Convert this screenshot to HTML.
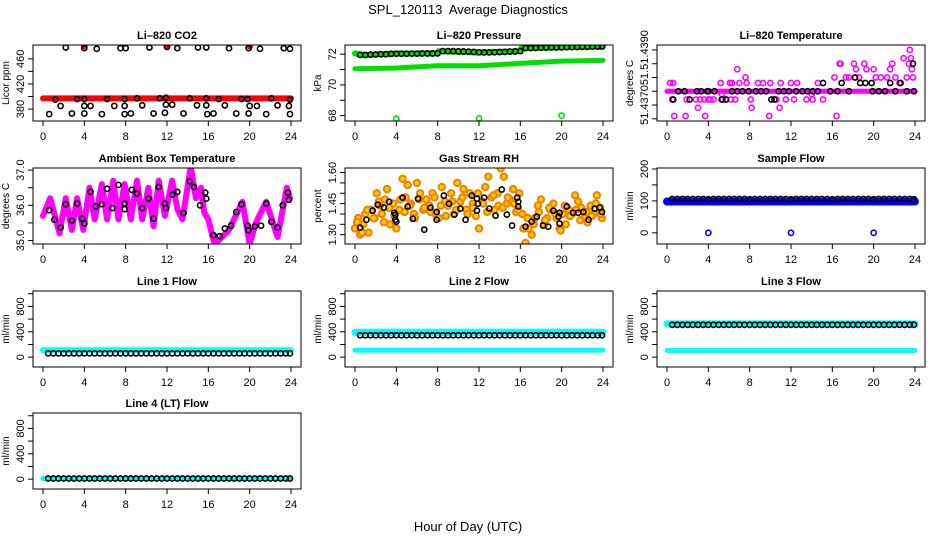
<!DOCTYPE html>
<html><head><meta charset="utf-8"><style>
html,body{margin:0;padding:0;background:#fff;}
svg{display:block;font-family:"Liberation Sans",Arial,sans-serif;}
</style></head><body>
<svg id="chart" width="936" height="540" viewBox="0 0 936 540">
<text x="468" y="14" text-anchor="middle" font-size="13" style="white-space:pre">SPL_120113  Average Diagnostics</text>
<text x="468" y="531" text-anchor="middle" font-size="13">Hour of Day (UTC)</text>
</svg>
<script>
// ---- shared data ----
const XTICKS = [0,4,8,12,16,20,24];
const HALF_HOURS = [0.5,1,1.5,2,2.5,3,3.5,4,4.5,5,5.5,6,6.5,7,7.5,8,8.5,9,9.5,10,10.5,11,11.5,12,12.5,13,13.5,14,14.5,15,15.5,16,16.5,17,17.5,18,18.5,19,19.5,20,20.5,21,21.5,22,22.5,23,23.5,23.9];
const DAY_T = [0,24];
const OUTLIER_T = [4,12,20];

// CO2
const co2BandV = [397,397];
const co2RedOutV = [480,481,480];
const co2BlackT = [2.2,4,5.2,7.5,8,10.3,12,13,15,15.8,18,19.9,21,23.3,23.9, 1.2,3.3,4,6.2,7.9,9.1,11.3,11.9,14.2,15.8,17,19.2,19.8,22.1,23.9, 1.7,4,4.6,6.9,7.9,9.6,11.9,12.5,14.9,15.8,17.6,20,20.7,22.7,23.8, 0.6,2.8,4,5.7,7.9,8.5,10.7,11.8,13.6,15.9,16.5,18.7,19.9,21.6,23.9];
const co2BlackV = [478,477,476,477,477,478,479,477,478,478,477,477,476,477,476, 395,396,396,396,396,397,397,398,397,397,396,396,396,397,395, 385,385,385,385,385,386,387,387,386,386,386,385,385,386,385, 372,373,373,372,372,373,373,374,373,372,373,373,373,372,372];

// Pressure
const presLowT = [0,4,8,12,16,20,24];
const presLowV = [71.05,71.1,71.25,71.25,71.4,71.55,71.6];
const presHighT = [0,1,4,7.9,8.1,12,15.9,16.1,20,24];
const presHighV = [72.05,71.95,72.05,72.05,72.2,72.1,72.2,72.4,72.45,72.5];
const presOutV = [67.8,67.82,68.0];
const presBlackV = [71.95,71.95,71.97,71.98,72,72,72.02,72.03,72.03,72.03,72.04,72.04,72.05,72.05,72.05,72.06,72.2,72.2,72.2,72.19,72.18,72.17,72.15,72.13,72.12,72.12,72.13,72.14,72.15,72.17,72.18,72.2,72.4,72.4,72.41,72.42,72.43,72.44,72.44,72.45,72.46,72.46,72.47,72.48,72.48,72.5,72.5,72.5];

// Li-820 temperature
const tempBandV = [51.4375,51.4375];
const tempPinkT = [0.3,0.6,0.5,0.7,1.9,1.8,2.8,3.0,3.2,3.7,3.6,4.0,4.2,4.5,5.2,5.3,5.4,5.7,6.1,6.2,6.3,6.6,6.8,7.0,7.6,7.7,8.1,8.2,8.8,9.3,9.9,10.0,10.6,10.9,11.0,11.5,12.0,12.3,12.6,13.5,14.0,14.1,14.6,15.1,16.2,16.4,16.7,16.8,17.3,17.6,18.1,18.3,18.6,19.1,19.3,20.0,20.2,20.7,21.3,21.6,21.8,22.1,22.5,22.9,23.2,23.4,23.5,23.6,23.7,23.8];
const tempPinkV = [51.4378,51.4378,51.4372,51.4366,51.4372,51.4366,51.4372,51.4369,51.4372,51.4366,51.4372,51.4372,51.4372,51.4372,51.4378,51.4374,51.4372,51.4372,51.4378,51.4372,51.4378,51.4372,51.4383,51.4378,51.4380,51.4378,51.4372,51.4369,51.4378,51.4378,51.4366,51.4378,51.4372,51.4369,51.4378,51.4372,51.4378,51.4372,51.4378,51.4372,51.4374,51.4372,51.4378,51.4372,51.4380,51.4366,51.4385,51.4385,51.4380,51.4380,51.4385,51.4383,51.4380,51.4385,51.4383,51.4383,51.4380,51.4380,51.4380,51.4383,51.4385,51.4380,51.4378,51.4387,51.4380,51.4385,51.4390,51.4387,51.4383,51.4380];
const tempBlackT = [0.6,1.1,1.7,2.2,2.9,3.3,3.9,4.0,4.6,5.3,5.7,6.3,6.8,7.3,7.9,8.6,9.1,9.6,10.1,10.4,10.8,11.3,11.8,12.5,13.1,13.6,14.1,14.6,15.1,15.8,16.5,16.9,17.6,18.2,18.7,19.2,19.8,19.9,20.5,21.1,21.6,22.1,22.6,23.2,23.8,23.9];
const tempBlackV = [51.4372,51.4375,51.4375,51.4372,51.4375,51.4375,51.4375,51.4375,51.4375,51.4372,51.4372,51.4375,51.4375,51.4375,51.4375,51.4375,51.4375,51.4375,51.4372,51.4372,51.4375,51.4375,51.4375,51.4375,51.4375,51.4375,51.4375,51.4375,51.4378,51.4375,51.4375,51.4378,51.4375,51.4380,51.4378,51.4378,51.4378,51.4375,51.4375,51.4375,51.4378,51.4375,51.4378,51.4375,51.4385,51.4375];

// Ambient box temperature
const ambBandT = [0,0.7,1.6,2.2,2.8,3.3,3.9,4.5,5.0,5.7,6.2,6.8,7.3,7.9,8.5,9.1,9.6,10.2,10.7,11.2,11.8,12.5,13.0,13.5,14.3,14.8,15.3,15.6,16.0,16.5,17.0,18.0,19.3,20.0,20.6,21.6,22.7,23.6,23.9];
const ambBandV = [35.7,36.2,35.2,36.2,35.3,36.2,35.3,36.5,35.6,36.6,35.6,36.7,35.6,36.6,35.6,36.7,35.6,36.5,35.4,36.7,35.7,36.7,35.9,35.6,37.1,36.2,36.5,35.8,35.6,35.0,35.0,35.3,36.1,34.9,35.5,36.1,35.1,36.5,36.2];
const ambBlackT = [0.6,1.1,1.7,2.2,2.8,3.3,3.8,4,4.6,5.1,5.7,6.2,6.7,7.3,7.9,7.9,8.6,9.1,9.6,10.2,10.7,11.2,11.8,11.9,12.5,13,13.6,14.2,14.6,15.2,15.7,15.8,16.5,17.1,17.6,18.2,18.7,19.2,19.8,19.9,20.5,21.1,21.6,22.1,22.7,23.2,23.7,23.8];
const ambBlackV = [35.86,35.59,35.37,36.03,35.56,36.05,35.62,35.48,36.38,35.97,36.03,36.47,35.92,36.58,36.05,35.89,36.44,36.33,35.92,36.19,35.62,36.52,36.05,35.92,36.30,36.38,35.78,36.68,36.52,36.0,36.36,36.19,35.15,35.12,35.34,35.42,35.81,36.03,35.42,35.29,35.40,35.42,36.05,35.53,35.37,36.0,36.36,36.16];

// Gas stream RH
const rhOrangeT = [0,0.3,0.5,0.8,1.0,1.3,1.6,1.9,2.1,2.4,2.6,2.9,3.1,3.4,3.7,4.0,4.3,4.6,4.9,5.1,5.4,5.7,6.0,6.3,6.6,6.9,7.2,7.5,7.8,8.1,8.4,8.7,9.0,9.3,9.6,9.9,10.2,10.5,10.8,11.1,11.4,11.7,12.0,12.3,12.6,12.9,13.2,13.5,13.8,14.1,14.4,14.7,15.0,15.3,15.6,15.9,16.2,16.5,16.8,17.1,17.4,17.7,18.0,18.3,18.6,18.9,19.2,19.5,19.8,20.1,20.4,20.7,21.0,21.3,21.6,21.9,22.2,22.5,22.8,23.1,23.4,23.7,23.9,
 0.2,0.7,1.2,1.8,2.3,2.8,3.3,3.8,4.4,4.8,5.3,5.8,6.2,6.7,7.3,7.7,8.3,8.8,9.4,9.8,10.4,10.9,11.4,11.9,12.4,12.8,13.4,13.9,14.3,14.8,15.4,15.8,16.3,16.7,17.3,17.8,18.4,18.8,19.4,19.9,20.3,20.8,21.4,21.8,22.4,22.9,23.3,23.8];
const rhOrangeV = [1.33,1.38,1.30,1.35,1.40,1.31,1.42,1.38,1.50,1.44,1.40,1.47,1.52,1.35,1.45,1.33,1.42,1.57,1.48,1.54,1.45,1.40,1.55,1.50,1.42,1.47,1.44,1.50,1.40,1.38,1.53,1.46,1.44,1.50,1.40,1.55,1.46,1.52,1.42,1.50,1.45,1.39,1.33,1.46,1.53,1.58,1.48,1.42,1.50,1.62,1.58,1.45,1.47,1.52,1.41,1.50,1.40,1.26,1.33,1.30,1.38,1.44,1.47,1.35,1.38,1.42,1.45,1.38,1.33,1.40,1.35,1.42,1.40,1.49,1.46,1.43,1.38,1.36,1.44,1.40,1.49,1.43,1.38,
 1.36,1.31,1.42,1.38,1.46,1.36,1.43,1.39,1.47,1.41,1.44,1.38,1.47,1.43,1.41,1.48,1.44,1.39,1.46,1.42,1.48,1.40,1.43,1.50,1.45,1.41,1.49,1.44,1.43,1.48,1.45,1.42,1.33,1.38,1.35,1.41,1.37,1.43,1.40,1.32,1.44,1.39,1.42,1.37,1.41,1.39,1.45,1.40];
const rhBlackT = [0.5,1.1,1.7,2.2,2.8,3.3,3.8,3.9,3.9,4.0,4.6,5.1,5.6,6.1,6.7,7.3,7.9,7.9,8.6,9.1,9.6,10.2,10.7,11.3,11.8,11.9,11.8,12.5,13.0,13.6,14.2,14.7,15.2,15.7,15.8,15.8,16.5,17.1,17.6,18.2,18.7,19.2,19.7,19.8,19.8,20.5,21.1,21.6,22.1,22.6,23.2,23.7,23.9];
const rhBlackV = [1.334,1.372,1.416,1.445,1.431,1.459,1.406,1.397,1.372,1.363,1.479,1.436,1.377,1.474,1.324,1.43,1.41,1.372,1.489,1.45,1.397,1.426,1.372,1.489,1.474,1.45,1.416,1.479,1.426,1.392,1.518,1.397,1.344,1.479,1.459,1.436,1.339,1.363,1.387,1.344,1.339,1.416,1.387,1.406,1.353,1.436,1.406,1.406,1.41,1.372,1.426,1.431,1.41];

// Sample flow
const sfBandV = [98,98];
const sfOutV = [0,0,0];
const sfBlackV = [106,106,106,106,106,106,106,105,106,106,106,106,106,106,106,105,106,106,106,106,106,106,106,105,106,106,106,106,106,106,106,105,106,106,106,106,106,106,106,105,106,106,106,106,106,106,106,105];

// Line flows
const l1CyanV = [110,110];
const l1BlackV = [60,60,60,60,60,60,60,60,60,60,60,60,60,60,60,60,60,60,60,60,60,60,60,60,60,60,60,60,60,60,60,60,60,60,60,60,60,60,60,60,60,60,60,60,60,60,60,60];
const l2CyanHighV = [390,390];
const l2CyanLowV = [109,109];
const l2BlackV = [345,345,345,345,345,345,345,345,345,345,345,345,345,345,345,345,345,345,345,345,345,345,345,345,345,345,345,345,345,345,345,345,345,345,345,345,345,345,345,345,345,345,345,345,345,345,345,345];
const l3CyanHighV = [525,525];
const l3CyanLowV = [105,105];
const l3BlackV = [510,510,510,510,510,510,510,510,510,510,510,510,510,510,510,510,510,510,510,510,510,510,510,510,510,510,510,510,510,510,510,510,510,510,510,510,510,510,510,510,510,510,510,510,510,510,510,510];
const l4CyanV = [10,10];
const l4BlackV = [10,10,10,10,10,10,10,10,10,10,10,10,10,10,10,10,10,10,10,10,10,10,10,10,10,10,10,10,10,10,10,10,10,10,10,10,10,10,10,10,10,10,10,10,10,10,10,10];

// ---- drawing ----
const svg = document.getElementById('chart');
const NS = 'http://www.w3.org/2000/svg';
const TOPS = [45,168,291,413];
function mk(tag, attrs, parent){ const e=document.createElementNS(NS,tag); for(const k in attrs) e.setAttribute(k,attrs[k]); (parent||svg).appendChild(e); return e; }

function panel(col,row,cfg){
  const L=33+312*col, R=301+312*col, T=TOPS[row], B=T+76;
  const g = mk('g',{});
  
  
  const x = t => L+10+t/24*(R-L-20);
  const y = v => B-(v-cfg.ymin)/(cfg.ymax-cfg.ymin)*(B-T);
  const clip = mk('clipPath',{id:'clip'+col+row},g);
  mk('rect',{x:L,y:T,width:R-L,height:B-T},clip);
  const plot = mk('g',{'clip-path':'url(#clip'+col+row+')'},g);
  const tt = mk('text',{x:(L+R)/2,y:T-6,'text-anchor':'middle','font-size':11,'font-weight':'bold'},g);
  tt.textContent = cfg.title;
  
  
  const box = mk('rect',{x:L,y:T,width:R-L,height:B-T,fill:'none',stroke:'#000','stroke-width':1},g);
  
  
  const xa = mk('g',{},g);
  
  
  mk('line',{x1:x(0),x2:x(24),y1:B,y2:B,stroke:'#000'},xa);
  XTICKS.forEach(t=>{
    mk('line',{x1:x(t),x2:x(t),y1:B,y2:B+5,stroke:'#000'},xa);
    const tx = mk('text',{x:x(t),y:B+19,'text-anchor':'middle','font-size':11},xa);
    tx.textContent = t;
  });
  const ya = mk('g',{},g);
  
  
  const yt = cfg.yticks;
  mk('line',{x1:L,x2:L,y1:y(yt[0]),y2:y(yt[yt.length-1]),stroke:'#000'},ya);
  yt.forEach((v,i)=>{
    mk('line',{x1:L-5,x2:L,y1:y(v),y2:y(v),stroke:'#000'},ya);
    const lab = cfg.ylabels[i];
    if(lab){ const tx = mk('text',{x:L-9,y:y(v),'text-anchor':'middle','font-size':11,transform:`rotate(-90 ${L-9} ${y(v)})`},ya); tx.textContent = lab; }
  });
  const ytl = mk('text',{x:L-24,y:(T+B)/2,'text-anchor':'middle','font-size':10,transform:`rotate(-90 ${L-24} ${(T+B)/2})`},g);
  ytl.textContent = cfg.ylab;
  
  
  cfg.series.forEach(s=>{
    if(s.type==='band'){
      const pl = mk('polyline',{points:s.t.map((t,i)=>x(t)+','+y(s.v[i])).join(' '),fill:'none',stroke:s.color,'stroke-width':s.w,'stroke-linejoin':'round','stroke-linecap':'round'},plot);
      
      
    } else {
      const sg = mk('g',{},plot);
      
      
      s.t.forEach((t,i)=>{
        const c = mk('circle',{cx:x(t),cy:y(s.v[i]),r:s.r||2.6,fill:s.fill||'none',stroke:s.color,'stroke-width':s.sw||1.6},sg);
        
        
      });
    }
  });
}

const lineTicks=[0,200,400,600,800,1000], lineLabs=['0','','400','','800',''];

panel(0,0,{name:'co2',title:'Li\u2013820 CO2',ylab:'Licor ppm',ymin:361,ymax:482,yticks:[380,400,420,440,460],ylabels:['380','','420','','460'],series:[
  {type:'band',name:'co2-red-band',t:DAY_T,v:co2BandV,color:'#f00',w:6},
  {type:'pts',name:'co2-red-outliers',t:OUTLIER_T,v:co2RedOutV,color:'#f00',fill:'#f00'},
  {type:'pts',name:'co2-hourly-points',t:co2BlackT,v:co2BlackV,color:'#000'}]});

panel(1,0,{name:'pressure',title:'Li\u2013820 Pressure',ylab:'kPa',ymin:67.65,ymax:72.6,yticks:[68,69,70,71,72],ylabels:['68','','70','','72'],series:[
  {type:'band',name:'pressure-lower-band',t:presLowT,v:presLowV,color:'#00e000',w:5},
  {type:'band',name:'pressure-upper-band',t:presHighT,v:presHighV,color:'#00e000',w:6},
  {type:'pts',name:'pressure-outliers',t:OUTLIER_T,v:presOutV,color:'#00e000'},
  {type:'pts',name:'pressure-hourly-points',t:HALF_HOURS,v:presBlackV,color:'#000'}]});

panel(2,0,{name:'li820-temp',title:'Li\u2013820 Temperature',ylab:'degrees C',ymin:51.43642,ymax:51.43918,yticks:[51.4365,51.4370,51.4375,51.4380,51.4385,51.4390],ylabels:['','51.4370','','51.','','51.4390'],series:[
  {type:'band',name:'li820-temp-band',t:DAY_T,v:tempBandV,color:'#f0f',w:5},
  {type:'pts',name:'li820-temp-pink-points',t:tempPinkT,v:tempPinkV,color:'#f0f'},
  {type:'pts',name:'li820-temp-hourly-points',t:tempBlackT,v:tempBlackV,color:'#000'}]});

panel(0,1,{name:'ambient-temp',title:'Ambient Box Temperature',ylab:'degrees C',ymin:34.9,ymax:37.06,yticks:[35,35.5,36,36.5,37],ylabels:['35.0','','36.0','','37.0'],series:[
  {type:'band',name:'ambient-temp-band',t:ambBandT,v:ambBandV,color:'#f0f',w:6},
  {type:'pts',name:'ambient-temp-hourly-points',t:ambBlackT,v:ambBlackV,color:'#000'}]});

panel(1,1,{name:'gas-rh',title:'Gas Stream RH',ylab:'percent',ymin:1.255,ymax:1.622,yticks:[1.30,1.35,1.40,1.45,1.50,1.55,1.60],ylabels:['1.30','','','1.45','','','1.60'],series:[
  {type:'pts',name:'gas-rh-orange-points',t:rhOrangeT,v:rhOrangeV,color:'#f08000',fill:'#f8d000',r:3.2,sw:2},
  {type:'pts',name:'gas-rh-hourly-points',t:rhBlackT,v:rhBlackV,color:'#000'}]});

panel(2,1,{name:'sample-flow',title:'Sample Flow',ylab:'ml/min',ymin:-35,ymax:203,yticks:[0,50,100,150,200],ylabels:['0','','100','','200'],series:[
  {type:'band',name:'sample-flow-band',t:DAY_T,v:sfBandV,color:'#00f',w:8},
  {type:'pts',name:'sample-flow-outliers',t:OUTLIER_T,v:sfOutV,color:'#00f'},
  {type:'pts',name:'sample-flow-hourly-points',t:HALF_HOURS,v:sfBlackV,color:'#000'}]});

panel(0,2,{name:'line1-flow',title:'Line 1 Flow',ylab:'ml/min',ymin:-155,ymax:1043,yticks:lineTicks,ylabels:lineLabs,series:[
  {type:'band',name:'line1-cyan-band',t:DAY_T,v:l1CyanV,color:'#0ff',w:6},
  {type:'pts',name:'line1-hourly-points',t:HALF_HOURS,v:l1BlackV,color:'#000'}]});

panel(1,2,{name:'line2-flow',title:'Line 2 Flow',ylab:'ml/min',ymin:-155,ymax:1043,yticks:lineTicks,ylabels:lineLabs,series:[
  {type:'band',name:'line2-cyan-high',t:DAY_T,v:l2CyanHighV,color:'#0ff',w:7},
  {type:'band',name:'line2-cyan-low',t:DAY_T,v:l2CyanLowV,color:'#0ff',w:5},
  {type:'pts',name:'line2-hourly-points',t:HALF_HOURS,v:l2BlackV,color:'#000'}]});

panel(2,2,{name:'line3-flow',title:'Line 3 Flow',ylab:'ml/min',ymin:-155,ymax:1043,yticks:lineTicks,ylabels:lineLabs,series:[
  {type:'band',name:'line3-cyan-high',t:DAY_T,v:l3CyanHighV,color:'#0ff',w:7},
  {type:'band',name:'line3-cyan-low',t:DAY_T,v:l3CyanLowV,color:'#0ff',w:5},
  {type:'pts',name:'line3-hourly-points',t:HALF_HOURS,v:l3BlackV,color:'#000'}]});

panel(0,3,{name:'line4-flow',title:'Line 4 (LT) Flow',ylab:'ml/min',ymin:-155,ymax:1043,yticks:lineTicks,ylabels:lineLabs,series:[
  {type:'band',name:'line4-cyan-band',t:DAY_T,v:l4CyanV,color:'#0ff',w:5},
  {type:'pts',name:'line4-hourly-points',t:HALF_HOURS,v:l4BlackV,color:'#000'}]});
</script>
</body></html>
